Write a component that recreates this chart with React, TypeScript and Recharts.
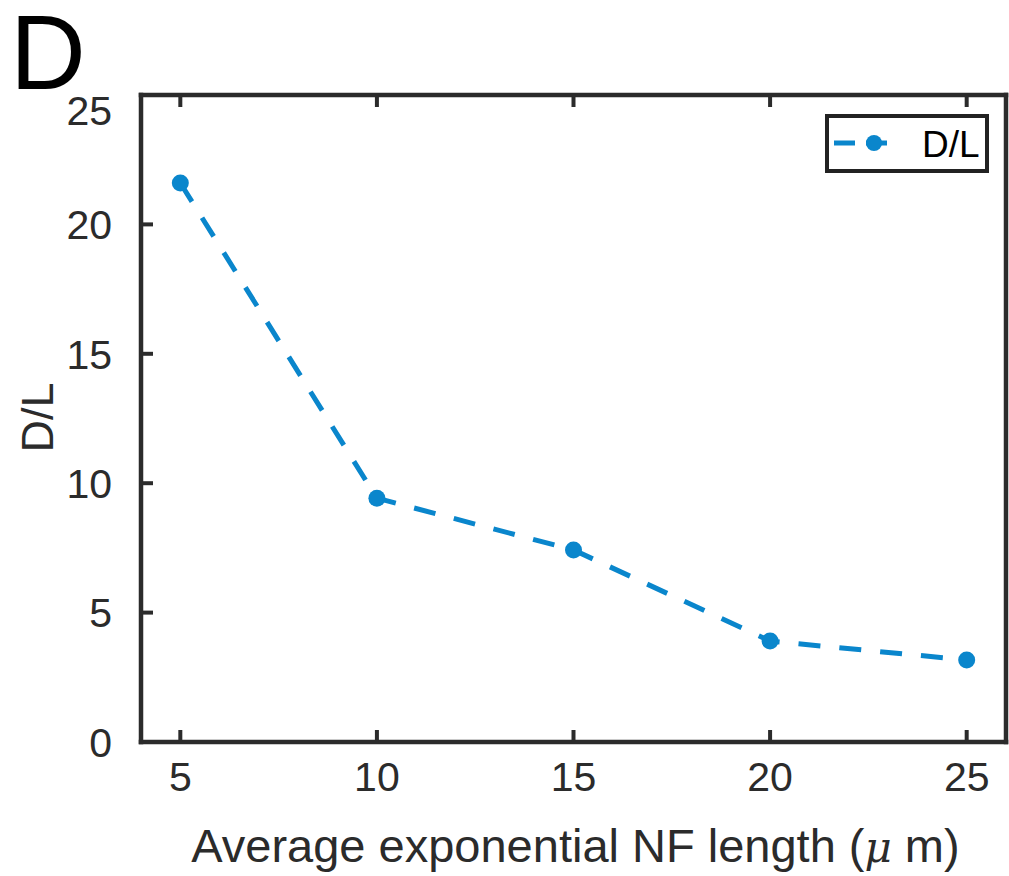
import React from 'react';
import { LineChart, Line, XAxis, YAxis, Legend } from 'recharts';

// NF length (µm) vs D/L
const nfLength = [5, 10, 15, 20, 25];
const dlRatio = [21.6, 9.42, 7.42, 3.9, 3.17];
const xTicks = [5, 10, 15, 20, 25];
const yTicks = [0, 5, 10, 15, 20, 25];

const data = nfLength.map((x, i) => ({ x, dl: dlRatio[i] }));

const BLUE = '#0a86cc';
const AXIS = '#2b2b2b';
const FONT = '"Liberation Sans", Arial, Helvetica, sans-serif';
const TICK_FS = 41;

const BottomTick = (props: any) => {
  const { x, y, payload } = props;
  return (
    <g>
      <line x1={x} x2={x} y1={y} y2={y - 12} stroke={AXIS} strokeWidth={4} />
      <text x={x} y={y + 49} textAnchor="middle" fill={AXIS} fontSize={TICK_FS} fontFamily={FONT}>
        {payload.value}
      </text>
    </g>
  );
};

const TopTick = (props: any) => {
  const { x, y } = props;
  return <line x1={x} x2={x} y1={y} y2={y + 12} stroke={AXIS} strokeWidth={4} />;
};

const LeftTick = (props: any) => {
  const { x, y, payload } = props;
  // top label sits a bit lower in the original
  const dy = payload.value === yTicks[yTicks.length - 1] ? 15 : 0;
  return (
    <g>
      <line x1={x} x2={x + 12} y1={y} y2={y} stroke={AXIS} strokeWidth={4} />
      <text x={x - 29} y={y + 14.7 + dy} textAnchor="end" fill={AXIS} fontSize={TICK_FS} fontFamily={FONT}>
        {payload.value}
      </text>
    </g>
  );
};

const RightTick = (props: any) => {
  const { x, y } = props;
  return <line x1={x} x2={x - 12} y1={y} y2={y} stroke={AXIS} strokeWidth={4} />;
};

const axisLine = { stroke: AXIS, strokeWidth: 4.5, strokeLinecap: 'square' as const };

const LegendBox = () => (
  <div
    style={{
      boxSizing: 'border-box',
      width: 164,
      height: 59,
      border: '4px solid #222',
      background: '#fff',
      position: 'relative',
      fontFamily: FONT,
    }}
  >
    <svg width={156} height={51} style={{ position: 'absolute', left: 0, top: 0 }}>
      <line x1={5} x2={69} y1={25} y2={25} stroke={BLUE} strokeWidth={5} strokeDasharray="21 11" />
      <circle cx={45} cy={25} r={8} fill={BLUE} />
      <text x={93} y={38.5} fontSize={37} fontFamily={FONT} fill="#000">
        D/L
      </text>
    </svg>
  </div>
);

export default function App() {
  return (
    <div style={{ position: 'absolute', left: 0, top: 0, width: 1009, height: 876, background: '#fff' }}>
      <div
        style={{
          position: 'absolute',
          left: 10,
          top: 0,
          fontFamily: FONT,
          fontSize: 105,
          lineHeight: '105px',
          color: '#000',
        }}
      >
        D
      </div>
      <LineChart
        width={1009}
        height={876}
        data={data}
        margin={{ top: 94, right: 2, bottom: 74, left: 41 }}
      >
        <XAxis
          dataKey="x"
          type="number"
          domain={[4, 26]}
          ticks={xTicks}
          height={60}
          axisLine={axisLine}
          tickLine={false}
          tickSize={0}
          tickMargin={0}
          tick={<BottomTick />}
          interval={0}
          label={{
            content: (p: any) => {
              const vb = p.viewBox;
              return (
                <text
                  x={vb.x + vb.width / 2 + 2}
                  y={vb.y + 120}
                  textAnchor="middle"
                  fill={AXIS}
                  fontSize={47}
                  fontFamily={FONT}
                >
                  Average exponential NF length (
                  <tspan fontStyle="italic" fontFamily='"DejaVu Serif", serif' fontSize={42}>μ</tspan> m)
                </text>
              );
            },
          }}
        />
        <XAxis
          xAxisId="top"
          orientation="top"
          dataKey="x"
          type="number"
          domain={[4, 26]}
          ticks={xTicks}
          height={1}
          axisLine={axisLine}
          tickLine={false}
          tickSize={0}
          tickMargin={0}
          tick={<TopTick />}
          interval={0}
        />
        <YAxis
          type="number"
          domain={[0, 25]}
          ticks={yTicks}
          width={100}
          axisLine={axisLine}
          tickLine={false}
          tickSize={0}
          tickMargin={0}
          tick={<LeftTick />}
          interval={0}
          label={{
            content: () => (
              <text
                x={53}
                y={417.5}
                transform="rotate(-90 53 417.5)"
                textAnchor="middle"
                fill={AXIS}
                fontSize={45}
                fontFamily={FONT}
              >
                D/L
              </text>
            ),
          }}
        />
        <YAxis
          yAxisId="right"
          orientation="right"
          type="number"
          domain={[0, 25]}
          ticks={yTicks}
          width={1}
          axisLine={axisLine}
          tickLine={false}
          tickSize={0}
          tickMargin={0}
          tick={<RightTick />}
          interval={0}
        />
        <Legend
          layout="horizontal"
          verticalAlign="middle"
          align="center"
          content={() => <LegendBox />}
          wrapperStyle={{ left: 825, top: 114, width: 164, height: 59 }}
        />
        <Line
          type="linear"
          dataKey="dl"
          name="D/L"
          stroke={BLUE}
          strokeWidth={5}
          strokeDasharray="22 19"
          dot={{ r: 8.5, fill: BLUE, stroke: 'none', strokeWidth: 0 }}
          activeDot={false}
          isAnimationActive={false}
        />
      </LineChart>
    </div>
  );
}
